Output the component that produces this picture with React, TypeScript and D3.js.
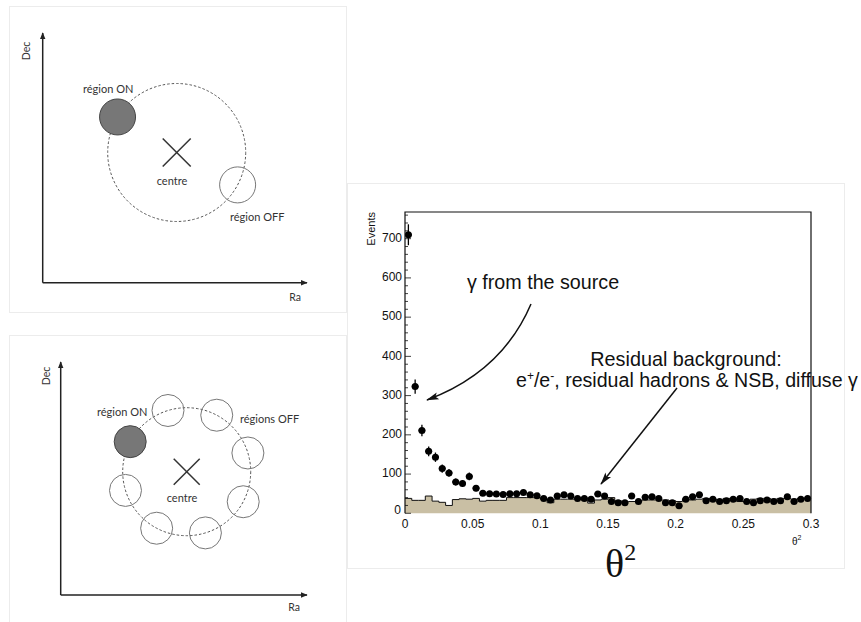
import React from "react";
import * as d3 from "d3";

// ---------- chart data ----------
const binWidth = 0.005;
const onCounts = [
  710, 323, 211, 158, 143, 114, 103, 80, 76, 94,
  64, 51, 50, 49, 48, 50, 50, 53, 47, 45,
  38, 34, 44, 47, 44, 38, 38, 36, 49, 44,
  30, 27, 27, 44, 30, 41, 42, 38, 27, 27,
  19, 36, 42, 47, 32, 36, 30, 32, 36, 38,
  30, 27, 32, 34, 30, 32, 42, 30, 36, 38,
];
const offCounts = [
  38, 33, 33, 44, 31, 28, 20, 35, 37, 36,
  38, 31, 33, 33, 33, 40, 40, 40, 40, 40,
  36, 27, 36, 36, 36, 36, 34, 26, 34, 36,
  40, 32, 30, 30, 30, 34, 34, 34, 34, 32,
  30, 36, 34, 36, 38, 36, 34, 38, 36, 30,
  30, 36, 38, 38, 36, 38, 38, 36, 38, 38,
];
const yTicks = [0, 100, 200, 300, 400, 500, 600, 700];
const yMinorTicks = d3.range(0, 761, 20);
const xTicks = [0, 0.05, 0.1, 0.15, 0.2, 0.25, 0.3];
const xTickLabels = ["0", "0.05", "0.1", "0.15", "0.2", "0.25", "0.3"];

// ---------- diagram data ----------
const topRegionAngles = [211, 28]; // ON, OFF (degrees)
const bottomRegionAngles = [208, 253, 298, 343, 28, 73, 118, 163]; // ON then 7 OFF

const x = d3.scaleLinear().domain([0, 0.3]).range([405, 811]);
const y = d3.scaleLinear().domain([0, 768]).range([513.3, 212]);

const diagFont = "Lato, 'Open Sans', sans-serif";
const chartFont = "'Liberation Sans', Arial, sans-serif";

function Diagram({
  ox, oy, axisTop, axisRight, cx, cy, r, rs, angles, onLabel, offLabel,
  decPos, raPos, centrePos, offLabelPos, onLabelPos, crossSize, id,
}: any) {
  const pos = (a: number) => [cx + r * Math.cos((a * Math.PI) / 180), cy + r * Math.sin((a * Math.PI) / 180)];
  return (
    <g>
      <defs>
        <marker id={id} viewBox="0 0 10 10" refX="9" refY="5" markerWidth="7" markerHeight="7" orient="auto-start-reverse" markerUnits="userSpaceOnUse">
          <path d="M0,1 L10,5 L0,9 z" fill="#222" />
        </marker>
      </defs>
      <line x1={ox} y1={oy} x2={ox} y2={axisTop} stroke="#222" strokeWidth={1.5} markerEnd={`url(#${id})`} />
      <line x1={ox} y1={oy} x2={axisRight} y2={oy} stroke="#222" strokeWidth={1.5} markerEnd={`url(#${id})`} />
      <text x={decPos[0]} y={decPos[1]} transform={`rotate(-90 ${decPos[0]} ${decPos[1]})`} textAnchor="middle" dominantBaseline="middle" fontFamily={diagFont} fontSize={10.5} fill="#333">Dec</text>
      <text x={raPos[0]} y={raPos[1]} textAnchor="middle" dominantBaseline="middle" fontFamily={diagFont} fontSize={10.5} fill="#333">Ra</text>
      <circle cx={cx} cy={cy} r={r} fill="none" stroke="#555" strokeWidth={1} strokeDasharray="2.5,2" />
      {angles.map((a: number, i: number) => {
        const [px, py] = pos(a);
        return i === 0 ? (
          <circle key={i} cx={px} cy={py} r={rs} fill="#777" stroke="#444" strokeWidth={1} />
        ) : (
          <circle key={i} cx={px} cy={py} r={rs} fill="none" stroke="#777" strokeWidth={1} />
        );
      })}
      <line x1={cx - crossSize} y1={cy - crossSize} x2={cx + crossSize} y2={cy + crossSize} stroke="#333" strokeWidth={1.5} />
      <line x1={cx - crossSize} y1={cy + crossSize} x2={cx + crossSize} y2={cy - crossSize} stroke="#333" strokeWidth={1.5} />
      <text x={centrePos[0]} y={centrePos[1]} textAnchor="middle" fontFamily={diagFont} fontSize={11} fill="#333">centre</text>
      <text x={onLabelPos[0]} y={onLabelPos[1]} fontFamily={diagFont} fontSize={11} fill="#333">{onLabel}</text>
      <text x={offLabelPos[0]} y={offLabelPos[1]} fontFamily={diagFont} fontSize={11} fill="#333">{offLabel}</text>
    </g>
  );
}

export default function App() {
  const bins = onCounts.map((v, i) => ({ x0: i * binWidth, x1: (i + 1) * binWidth, on: v, off: offCounts[i] }));

  const area = d3.area<any>()
    .curve(d3.curveStepAfter)
    .x((d) => x(d.x))
    .y0(y(0))
    .y1((d) => y(d.v));
  const stepPts = offCounts.map((v, i) => ({ x: i * binWidth, v })).concat([{ x: 0.3, v: offCounts[offCounts.length - 1] }]);
  const line = d3.line<any>().curve(d3.curveStepAfter).x((d) => x(d.x)).y((d) => y(d.v));

  const arrow1 = d3.path();
  arrow1.moveTo(531, 304);
  arrow1.quadraticCurveTo(502, 372, 427, 400);

  return (
    <svg width={861} height={622} style={{ position: "absolute", left: 0, top: 0, background: "#fff" }}>
      <defs>
        <marker id="arr" viewBox="0 0 14 10" refX="13" refY="5" markerWidth="14" markerHeight="9" orient="auto" markerUnits="userSpaceOnUse">
          <path d="M0,1 L14,5 L0,9 L3,5 z" fill="#111" />
        </marker>
      </defs>
      {/* panels */}
      <rect x={9.5} y={6.5} width={337} height={306} fill="#fff" stroke="#ececec" />
      <rect x={9.5} y={335.5} width={337} height={300} fill="#fff" stroke="#ececec" />
      <rect x={347.5} y={183.5} width={497} height={385} fill="#fff" stroke="#ececec" />

      <Diagram id="a1" ox={42.7} oy={282.7} axisTop={33} axisRight={307} cx={176.7} cy={152.5} r={69} rs={18}
        angles={topRegionAngles} onLabel="région ON" offLabel="région OFF"
        decPos={[27, 51]} raPos={[295, 298]} centrePos={[172, 185]} onLabelPos={[83, 93]} offLabelPos={[230, 221]} crossSize={14} />
      <Diagram id="a2" ox={60.7} oy={595} axisTop={362} axisRight={307} cx={186.7} cy={471.7} r={64} rs={16}
        angles={bottomRegionAngles} onLabel="région ON" offLabel="régions OFF"
        decPos={[47, 376]} raPos={[294, 608]} centrePos={[182, 502]} onLabelPos={[97, 416]} offLabelPos={[240, 423]} crossSize={13} />

      {/* chart */}
      <path d={area(stepPts) || ""} fill="#c9bfa4" />
      <path d={line(stepPts) || ""} fill="none" stroke="#111" strokeWidth={1} />

      {bins.map((b, i) => {
        const cxp = x((b.x0 + b.x1) / 2);
        const err = Math.sqrt(b.on);
        return (
          <g key={i}>
            <line x1={cxp} x2={cxp} y1={y(b.on - err)} y2={y(b.on + err)} stroke="#000" strokeWidth={1.3} />
            <line x1={x(b.x0)} x2={x(b.x1)} y1={y(b.on)} y2={y(b.on)} stroke="#000" strokeWidth={2} />
            <circle cx={cxp} cy={y(b.on)} r={3.5} fill="#000" />
          </g>
        );
      })}

      {/* frame */}
      <path d={`M405,513.3 V212 H811 V513.3`} fill="none" stroke="#111" strokeWidth={1.2} />
      {yMinorTicks.map((t) => (
        <line key={"m" + t} x1={405} x2={405 + (t % 100 === 0 ? 6 : 3)} y1={y(t)} y2={y(t)} stroke="#111" strokeWidth={0.8} />
      ))}
      {yTicks.map((t) => (
        <text key={"y" + t} x={t === 0 ? 401 : 402} y={t === 0 ? y(t) - 2 : y(t)} textAnchor="end" dominantBaseline="middle" fontFamily={chartFont} fontSize={12} fill="#111">{t}</text>
      ))}
      {xTicks.map((t, i) => (
        <text key={"x" + t} x={x(t)} y={528} textAnchor="middle" fontFamily={chartFont} fontSize={12} fill="#111">{xTickLabels[i]}</text>
      ))}
      <text x={375} y={212} transform="rotate(-90 375 212)" textAnchor="end" fontFamily={chartFont} fontSize={11} fill="#111">Events</text>
      <text x={792} y={545} fontFamily={chartFont} fontSize={10} fill="#111">θ<tspan dy={-5} fontSize={7}>2</tspan></text>

      {/* annotations */}
      <text x={467} y={289} fontFamily={chartFont} fontSize={19.7} fill="#111">γ from the source</text>
      <path d={arrow1.toString()} fill="none" stroke="#111" strokeWidth={1.5} markerEnd="url(#arr)" />
      <text x={686} y={366} textAnchor="middle" fontFamily={chartFont} fontSize={19.8} fill="#111">Residual background:</text>
      <text x={516} y={387} fontFamily={chartFont} fontSize={19.6} fill="#111">
        e<tspan dy={-7} fontSize={12}>+</tspan><tspan dy={7}>/e</tspan><tspan dy={-7} fontSize={12}>-</tspan><tspan dy={7}>, residual hadrons &amp; NSB, diffuse γ</tspan>
      </text>
      <line x1={677} y1={388} x2={601} y2={484} stroke="#111" strokeWidth={1.5} markerEnd="url(#arr)" />

      <text x={605} y={577} fontFamily="'Liberation Serif', 'Times New Roman', serif" fontSize={40} fill="#111">θ<tspan dy={-17} fontSize={24}>2</tspan></text>
    </svg>
  );
}
